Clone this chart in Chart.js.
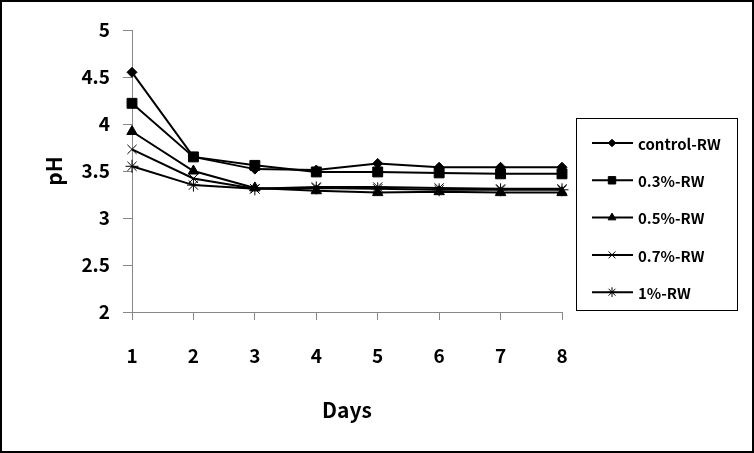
<!DOCTYPE html>
<html>
<head>
<meta charset="utf-8">
<script src="https://cdn.jsdelivr.net/npm/chart.js@4"></script>
<style>
	html, body { margin: 0; padding: 0; background: #fff; }
</style>
</head>
<body>
<canvas id="phChart" width="754" height="453"></canvas>
<script>
// Data
const days = ["1", "2", "3", "4", "5", "6", "7", "8"];
const seriesNames = ["control-RW", "0.3%-RW", "0.5%-RW", "0.7%-RW", "1%-RW"];
const controlRW = [4.55, 3.65, 3.52, 3.51, 3.58, 3.54, 3.54, 3.54];
const rw03 = [4.22, 3.65, 3.56, 3.49, 3.49, 3.48, 3.47, 3.47];
const rw05 = [3.92, 3.50, 3.32, 3.29, 3.27, 3.28, 3.27, 3.27];
const rw07 = [3.73, 3.42, 3.31, 3.33, 3.33, 3.32, 3.31, 3.31];
const rw1 = [3.55, 3.35, 3.31, 3.32, 3.31, 3.30, 3.30, 3.30];
const yMin = 2;
const yMax = 5;
const yStep = 0.5;

const fontFamily = "'Noto Sans CJK KR', 'DejaVu Sans', sans-serif";
const markers = ["rectRot", "rect", "triangle", "crossRot", "star"];
const markerSizes = [5, 7, 6, 6.5, 6.5];
const allValues = [controlRW, rw03, rw05, rw07, rw1];

const datasets = allValues.map((vals, i) => ({
	label: seriesNames[i],
	data: vals,
	borderColor: "#000",
	backgroundColor: "#000",
	borderWidth: 2,
	pointStyle: markers[i],
	pointRadius: markerSizes[i],
	pointBackgroundColor: "#000",
	pointBorderColor: "#000",
	pointBorderWidth: 1,
	tension: 0,
}));

// white page + outer frame
const framePlugin = {
	id: "frame",
	beforeDraw(chart) {
		const ctx = chart.ctx;
		ctx.save();
		ctx.fillStyle = "#fff";
		ctx.fillRect(0, 0, chart.width, chart.height);
		ctx.restore();
	},
	afterDraw(chart) {
		const ctx = chart.ctx;
		ctx.save();
		ctx.strokeStyle = "#000";
		ctx.lineWidth = 2;
		ctx.strokeRect(1, 1, chart.width - 2, chart.height - 2);
		ctx.restore();
	},
};

// boxed legend on the right
const boxLegend = {
	id: "boxLegend",
	afterDraw(chart) {
		const ctx = chart.ctx;
		ctx.save();
		ctx.strokeStyle = "#000";
		ctx.lineWidth = 1;
		ctx.strokeRect(576.5, 118.5, 161, 192);
		chart.data.datasets.forEach((ds, i) => {
			const y = 143 + i * 37.3;
			ctx.strokeStyle = "#000";
			ctx.fillStyle = "#000";
			ctx.lineWidth = 2;
			ctx.beginPath();
			ctx.moveTo(592, y);
			ctx.lineTo(633, y);
			ctx.stroke();
			ctx.lineWidth = 1;
			Chart.helpers.drawPoint(ctx, {
				pointStyle: ds.pointStyle,
				radius: ds.pointRadius * 0.75,
				borderWidth: 1,
				rotation: 0,
			}, 612, y);
			ctx.fillStyle = "#000";
			ctx.font = "bold 15px " + fontFamily;
			ctx.textAlign = "left";
			ctx.textBaseline = "middle";
			ctx.fillText(ds.label, 638, y + 1);
		});
		ctx.restore();
	},
};

const ctx = document.getElementById("phChart").getContext("2d");
new Chart(ctx, {
	type: "line",
	data: {
		labels: days,
		datasets: datasets,
	},
	plugins: [framePlugin, boxLegend],
	options: {
		responsive: false,
		animation: false,
		devicePixelRatio: 1,
		layout: {
			padding: { left: 20, right: 192, top: 30, bottom: 10 },
		},
		plugins: {
			legend: { display: false },
			tooltip: { enabled: false },
		},
		scales: {
			x: {
				type: "category",
				offset: false,
				grid: { drawOnChartArea: false, drawTicks: true, tickLength: 8, color: "#888" },
				border: { display: true, color: "#888", width: 1 },
				ticks: {
					color: "#000",
					font: { family: fontFamily, size: 19, weight: "bold" },
					padding: 24,
					maxRotation: 0,
					autoSkip: false,
				},
				title: {
					display: true,
					text: "Days",
					color: "#000",
					font: { family: fontFamily, size: 21, weight: "bold" },
					padding: { top: 0, bottom: 20 },
				},
				afterFit: (scale) => { scale.height = 131; },
			},
			y: {
				min: yMin,
				max: yMax,
				grid: { drawOnChartArea: false, drawTicks: true, tickLength: 9, color: "#888" },
				border: { display: true, color: "#888", width: 1 },
				ticks: {
					stepSize: yStep,
					color: "#000",
					font: { family: fontFamily, size: 19, weight: "bold" },
					padding: 13,
					callback: (value) => String(Number(value)),
				},
				title: {
					display: true,
					text: "pH",
					color: "#000",
					font: { family: fontFamily, size: 21, weight: "bold" },
					padding: { top: 21, bottom: 0 },
				},
				afterFit: (scale) => { scale.width = 112; },
			},
		},
	},
});
</script>
</body>
</html>
